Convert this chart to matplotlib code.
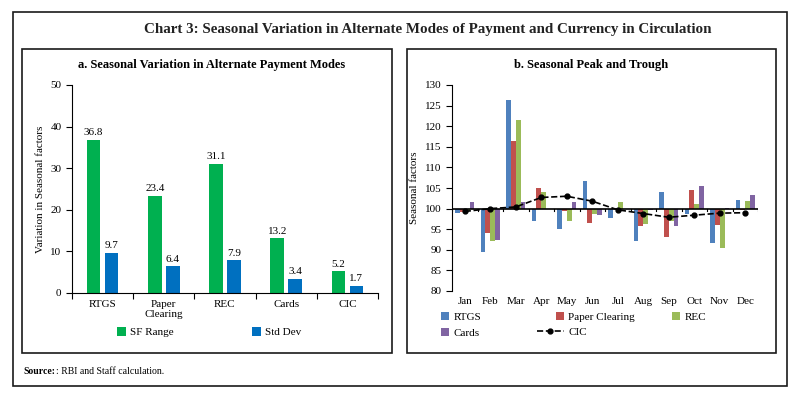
import numpy as np
import matplotlib
matplotlib.use("Agg")
import matplotlib.pyplot as plt
from matplotlib.patches import Rectangle
from matplotlib.legend import Legend

plt.rcParams['font.family'] = ['Liberation Serif', 'DejaVu Serif']

# panel a data
modes = ['RTGS', 'Paper\nClearing', 'REC', 'Cards', 'CIC']
sf_range = [36.8, 23.4, 31.1, 13.2, 5.2]
std_dev = [9.7, 6.4, 7.9, 3.4, 1.7]

# panel b data (seasonal factors)
months = ['Jan', 'Feb', 'Mar', 'Apr', 'May', 'Jun', 'Jul', 'Aug', 'Sep', 'Oct', 'Nov', 'Dec']
rtgs = [99.0, 89.5, 126.3, 97.0, 95.1, 106.6, 97.7, 92.1, 104.1, 98.6, 91.7, 102.1]
paper = [99.1, 94.1, 116.5, 105.0, 99.5, 96.5, 100.0, 95.7, 93.1, 104.4, 96.0, 99.6]
rec = [99.5, 92.1, 121.6, 104.1, 97.0, 98.7, 101.7, 96.3, 96.9, 101.0, 90.5, 101.9]
cards = [101.5, 92.4, 101.5, 99.9, 101.7, 98.4, 99.8, 99.6, 95.8, 105.5, 100.1, 103.3]
cic = [99.3, 100.0, 100.4, 102.7, 103.0, 101.8, 99.7, 98.8, 97.9, 98.4, 98.9, 99.0]

W, H = 796, 396
fig = plt.figure(figsize=(W / 100, H / 100), dpi=100)


def box(x0, y0, x1, y1):
    # pixel coords, y from top
    fig.patches.append(Rectangle((x0 / W, 1 - y1 / H), (x1 - x0) / W, (y1 - y0) / H,
                                 transform=fig.transFigure, fill=False, lw=1.2, ec='#1a1a1a'))


def leg(ax, handles, x, y, **kw):
    # legend with its top-left corner at pixel (x, y)
    l = Legend(ax, handles, [h.get_label() for h in handles], loc='upper left',
               bbox_to_anchor=(x / W, 1 - y / H), bbox_transform=fig.transFigure,
               borderpad=0, borderaxespad=0, frameon=False, fontsize=8,
               handletextpad=0.4, labelspacing=0.55, **kw)
    ax.add_artist(l)
    return l


box(13, 12, 787, 386)
box(22, 49, 392, 353)
box(407, 49, 776, 353)

fig.text(428 / W, 1 - 30 / H, 'Chart 3: Seasonal Variation in Alternate Modes of Payment and Currency in Circulation',
         ha='center', va='center', fontsize=10.8, fontweight='bold', color='#222222')
fig.text(212 / W, 1 - 65 / H, 'a. Seasonal Variation in Alternate Payment Modes',
         ha='center', va='center', fontsize=9, fontweight='bold')
fig.text(591 / W, 1 - 65 / H, 'b. Seasonal Peak and Trough',
         ha='center', va='center', fontsize=9, fontweight='bold')
fig.text(23 / W, 1 - 371 / H, 'Source:', ha='left', va='center', fontsize=7, fontweight='bold')
fig.text(56 / W, 1 - 371 / H, ': RBI and Staff calculation.', ha='left', va='center', fontsize=7)

# ---- panel a
ax1 = fig.add_axes([72 / W, 1 - 293 / H, (378 - 72) / W, (293 - 85) / H])
x = np.arange(len(modes))
bw = 0.22
b1 = ax1.bar(x - 0.147, sf_range, bw, color='#00B050', label='SF Range')
b2 = ax1.bar(x + 0.147, std_dev, bw, color='#0070C0', label='Std Dev')
for bars, vals in ((b1, sf_range), (b2, std_dev)):
    for r, v in zip(bars, vals):
        ax1.text(r.get_x() + r.get_width() / 2, v + 0.6, f'{v:.1f}', ha='center', va='bottom', fontsize=8)
ax1.set_xlim(-0.5, len(modes) - 0.5)
ax1.set_ylim(0, 50)
ax1.set_yticks(range(0, 51, 10))
ax1.set_xticks(np.arange(-0.5, len(modes), 1))
ax1.set_xticklabels([])
ax1.set_xticks(x, minor=True)
ax1.set_xticklabels(modes, minor=True, fontsize=8)
ax1.tick_params(axis='x', which='minor', length=0, pad=5)
ax1.tick_params(axis='x', which='major', length=4, direction='out')
ax1.tick_params(axis='y', length=4, labelsize=8)
for s in ('top', 'right'):
    ax1.spines[s].set_visible(False)
ax1.set_ylabel('Variation in Seasonal factors', fontsize=8, labelpad=4)
leg(ax1, [b1], 117, 327, handlelength=0.8, handleheight=0.8)
leg(ax1, [b2], 252, 327, handlelength=0.8, handleheight=0.8)

# ---- panel b
ax2 = fig.add_axes([452 / W, 1 - 291 / H, (758 - 452) / W, (291 - 85) / H])
m = np.arange(len(months))
w = 0.19
cols = ['#4F81BD', '#C0504D', '#9BBB59', '#8064A2']
names = ['RTGS', 'Paper Clearing', 'REC', 'Cards']
handles = []
for i, (vals, c, n) in enumerate(zip((rtgs, paper, rec, cards), cols, names)):
    vals = np.array(vals)
    h = ax2.bar(m + (i - 1.5) * w, vals - 100, w, bottom=100, color=c, label=n)
    handles.append(h)
ln, = ax2.plot(m, cic, color='black', ls='--', lw=1.2, marker='o', ms=3.5, label='CIC')
ax2.axhline(100, color='black', lw=1.2)
for b in np.arange(-0.5, len(months), 1):
    ax2.plot([b, b], [100, 99.4], color='black', lw=0.8)
ax2.set_xlim(-0.5, len(months) - 0.5)
ax2.set_ylim(80, 130)
ax2.set_yticks(range(80, 131, 5))
ax2.set_xticks(m)
ax2.set_xticklabels(months, fontsize=8)
ax2.tick_params(axis='x', length=0, pad=4)
ax2.tick_params(axis='y', length=4, labelsize=8)
for s in ('top', 'right', 'bottom'):
    ax2.spines[s].set_visible(False)
ax2.set_ylabel('Seasonal factors', fontsize=8, labelpad=4)
leg(ax2, [handles[0], handles[3]], 441, 312, handlelength=0.7, handleheight=0.7)
leg(ax2, [handles[1]], 556, 312, handlelength=0.7, handleheight=0.7)
leg(ax2, [handles[2]], 672, 312, handlelength=0.7, handleheight=0.7)
leg(ax2, [ln], 537, 327, handlelength=2.4)

fig.savefig('out.png', dpi=100)
